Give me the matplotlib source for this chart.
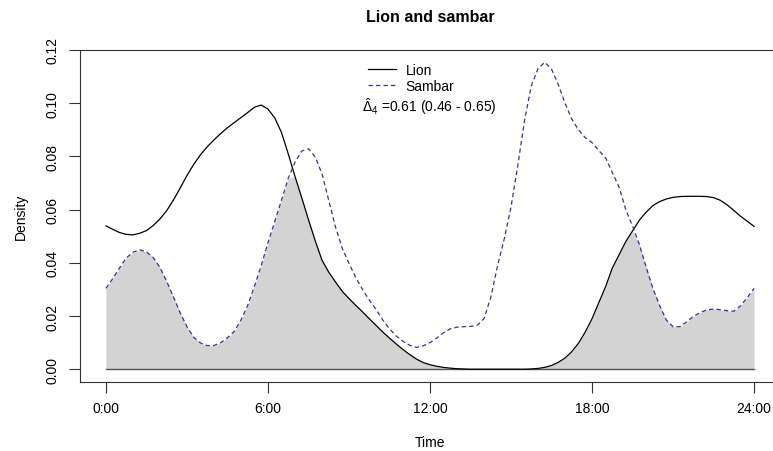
import matplotlib.pyplot as plt
import numpy as np

plt.rcParams['font.family'] = ['Liberation Sans', 'DejaVu Sans']
plt.rcParams['mathtext.fontset'] = 'custom'
plt.rcParams['mathtext.rm'] = 'Liberation Sans'
plt.rcParams['mathtext.it'] = 'Liberation Sans:italic'

# activity densities, every quarter hour
hours = np.arange(0, 24.01, 0.25)

lion = [0.0539, 0.0526, 0.0514, 0.0507, 0.0505, 0.0511, 0.0521, 0.0540,
        0.0565, 0.0596, 0.0636, 0.0681, 0.0728, 0.0770, 0.0806, 0.0836,
        0.0862, 0.0886, 0.0908, 0.0927, 0.0946, 0.0965, 0.0985, 0.0993,
        0.0978, 0.0945, 0.0890, 0.0810, 0.0725, 0.0645, 0.0562, 0.0483,
        0.0410, 0.0365, 0.0328, 0.0293, 0.0266, 0.0240, 0.0216, 0.0190,
        0.0165, 0.0140, 0.0117, 0.0095, 0.0074, 0.0055, 0.0038, 0.0025,
        0.0017, 0.0011, 0.0007, 0.0004, 0.0002, 0.0001, 0.0, 0.0,
        0.0, 0.0, 0.0, 0.0, 0.0, 0.0, 0.0, 0.0001,
        0.0003, 0.0007, 0.0014, 0.0026, 0.0042, 0.0066, 0.0098, 0.0140,
        0.0190, 0.0250, 0.0310, 0.0380, 0.0430, 0.0480, 0.0520, 0.0560,
        0.0590, 0.0615, 0.0630, 0.0640, 0.0646, 0.0649, 0.0650, 0.0650,
        0.0650, 0.0649, 0.0645, 0.0635, 0.0618, 0.0597, 0.0575, 0.0556,
        0.0537]

sambar = [0.0304, 0.0340, 0.0380, 0.0418, 0.0440, 0.0449, 0.0441, 0.0420,
          0.0383, 0.0330, 0.0272, 0.0212, 0.0160, 0.0120, 0.0099, 0.0089,
          0.0089, 0.0100, 0.0118, 0.0142, 0.0185, 0.0240, 0.0312, 0.0390,
          0.0475, 0.0555, 0.0635, 0.0718, 0.0778, 0.0820, 0.0829, 0.0798,
          0.0735, 0.0635, 0.0535, 0.0455, 0.0398, 0.0345, 0.0300, 0.0260,
          0.0225, 0.0185, 0.0152, 0.0125, 0.0105, 0.0090, 0.0082, 0.0088,
          0.0100, 0.0117, 0.0137, 0.0152, 0.0158, 0.0160, 0.0161, 0.0165,
          0.0190, 0.0270, 0.0388, 0.0490, 0.0610, 0.0765, 0.0935, 0.1065,
          0.1130, 0.1154, 0.1128, 0.1070, 0.1000, 0.0940, 0.0900, 0.0870,
          0.0852, 0.0822, 0.0795, 0.0740, 0.0685, 0.0600, 0.0538, 0.0470,
          0.0385, 0.0305, 0.0240, 0.0185, 0.0160, 0.0160, 0.0178, 0.0198,
          0.0213, 0.0223, 0.0226, 0.0224, 0.0220, 0.0218, 0.0238, 0.0270,
          0.0304]

xticks = [0, 6, 12, 18, 24]
xticklabels = ['0:00', '6:00', '12:00', '18:00', '24:00']
yticks = [0.00, 0.02, 0.04, 0.06, 0.08, 0.10, 0.12]
names = ['Lion', 'Sambar']
overlap_text = r'$\hat{\Delta}_4$ =0.61 (0.46 - 0.65)'

W, H = 773, 452
fig = plt.figure(figsize=(W / 100, H / 100), dpi=100)
ax = fig.add_axes([80 / W, 1 - 383 / H, 700 / W, 332 / H])

overlap = np.minimum(lion, sambar)
ax.fill_between(hours, 0, overlap, color='#d3d3d3', lw=0)
ax.plot([hours[0], hours[-1]], [0, 0], color='#555555', lw=1.0)
ax.plot(hours, lion, color='black', lw=0.9, label=names[0])
ax.plot(hours, sambar, color='#34348c', lw=0.9, ls=(0, (3.5, 2.5)), label=names[1])

ax.set_xlim(-0.96, 24.96)
ax.set_ylim(-0.0048, 0.12)

ax.set_xticks(xticks)
ax.set_xticklabels(xticklabels, fontsize=10)
ax.set_yticks(yticks)
ax.set_yticklabels(['%.2f' % v for v in yticks], fontsize=10, rotation=90, va='center')
ax.tick_params(axis='x', length=8, width=0.8, color='#333333', pad=6)
ax.tick_params(axis='y', length=8, width=0.8, color='#333333', pad=7)
for s in ax.spines.values():
    s.set_color('#333333')
    s.set_linewidth(0.8)

ax.set_xlabel('Time', fontsize=10)
ax.xaxis.set_label_coords(0.5, -(436 - 383) / 332)
ax.set_ylabel('Density', fontsize=10)
ax.yaxis.set_label_coords(-(80 - 28) / 700, 0.5)

ax.legend(loc='upper left', bbox_to_anchor=(368 / W, 1 - 64 / H), bbox_transform=fig.transFigure,
          frameon=False, fontsize=10, handlelength=2.0, handletextpad=0.72,
          labelspacing=0.15, borderpad=0, borderaxespad=0)

fig.text(362 / W, 1 - 107 / H, overlap_text, fontsize=10, va='center', ha='left')
fig.text(430 / W, 1 - 18 / H, 'Lion and sambar', fontsize=11.5, weight='bold', ha='center', va='center')

fig.savefig('out.png', dpi=100)
